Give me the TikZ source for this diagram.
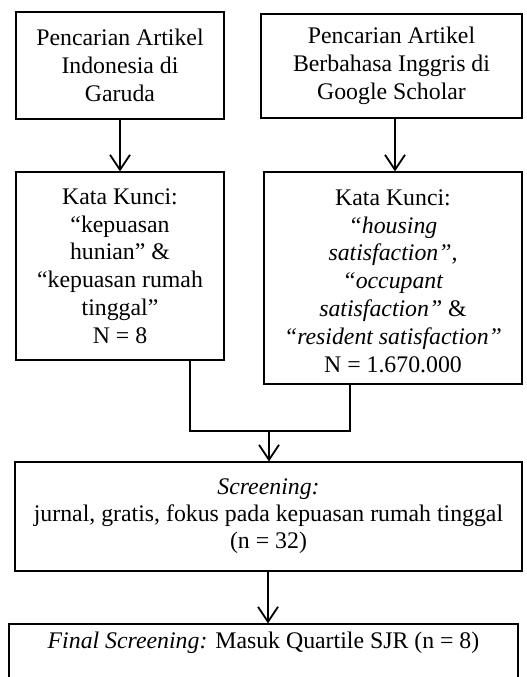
\documentclass[tikz,border=0pt]{standalone}
\usepackage{fontspec}
\setmainfont{Liberation Serif}
\usetikzlibrary{arrows.meta}
\begin{document}
\begin{tikzpicture}[x=1pt,y=-1pt,
  txt/.style={align=center, inner sep=0pt, font=\fontsize{23.8}{27.8}\selectfont},
  box/.style={txt, draw, line width=1.1pt},
  arr/.style={line width=1.8pt, -{Straight Barb[length=15pt,width=20pt,line width=1.8pt]}},
  conn/.style={line width=1.8pt}]
\useasboundingbox (0,0) rectangle (527,677);
\node[box, minimum width=208pt, minimum height=107pt] (A) at (120,65.5) {Pencarian Artikel\\Indonesia di\\Garuda};
\node[box, minimum width=261pt, minimum height=104pt] (B) at (391.5,66) {Pencarian Artikel\\Berbahasa Inggris di\\Google Scholar};
\node[box, minimum width=208pt, minimum height=188pt] (C) at (120,266) {Kata Kunci:\\“kepuasan\\hunian” \&\\“kepuasan rumah\\tinggal”\\N = 8};
\node[box, minimum width=258pt, minimum height=212pt] (D) at (393,278) {};
\node[txt, yshift=-3pt] (Dt) at (D.center) {Kata Kunci:\\\textit{“housing}\\\textit{satisfaction”,}\\\textit{“occupant}\\\textit{satisfaction”} \&\\\textit{“resident satisfaction”}\\N = 1.670.000};
\node[box, minimum width=507pt, minimum height=109pt, font=\fontsize{23.8}{27}\selectfont] (E) at (268.5,516.5) {\textit{Screening:}\\jurnal, gratis, fokus pada kepuasan rumah tinggal\\(n = 32)};
\node[box, minimum width=509pt, text height=24pt, text depth=52pt, anchor=base] (F) at (263.5,648) {\textit{Final Screening:} Masuk Quartile SJR (n = 8)};
\coordinate (bx) at (395,0);
\coordinate (cl) at (190,431);
\coordinate (cr) at (350,431);
\coordinate (cm) at (269,431);
\coordinate (ex) at (268,0);
\draw[arr] (A) -- (C);
\draw[arr] (B.south -| bx) -- (D.north -| bx);
\draw[conn] (C.south -| cl) -- (cl) -- (cr) -- (D.south -| cr);
\draw[arr] (cm) -- (E.north -| cm);
\draw[arr] (E.south -| ex) -- (F.north -| ex);
\end{tikzpicture}
\end{document}
